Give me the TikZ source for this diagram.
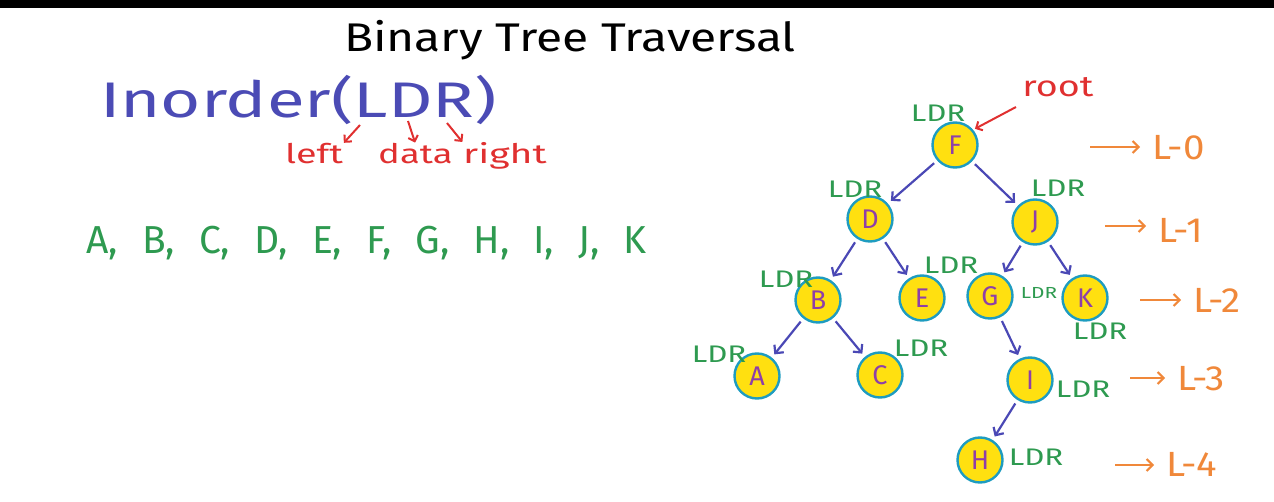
\documentclass[tikz,border=0pt]{standalone}
\usepackage{fontspec}
\setmainfont{Fira Sans}
\usetikzlibrary{arrows.meta}
\newcommand{\wideby}[2]{\scalebox{#1}[1]{#2}}
\definecolor{tblue}{HTML}{4B4BB5}
\definecolor{tred}{HTML}{E03030}
\definecolor{tgreen}{HTML}{2E9A50}
\definecolor{tyellow}{HTML}{FFE010}
\definecolor{tborder}{HTML}{1E9CC0}
\definecolor{tletter}{HTML}{8E3FA8}
\definecolor{tarrow}{HTML}{4A48B5}
\definecolor{torange}{HTML}{F0883A}
\tikzset{
  tnode/.style={circle, draw=tborder, line width=2.4pt, fill=tyellow, minimum size=45pt, inner sep=0pt, text=tletter, font=\fontsize{27}{27}\selectfont},
  edge/.style={-{Straight Barb[length=6pt,width=12pt]}, line width=2.2pt, draw=tarrow, shorten <=4pt, shorten >=4pt},
  ldr/.style={text=tgreen, font=\fontsize{24}{24}\selectfont, inner sep=0pt},
  ldrsmall/.style={text=tgreen, font=\fontsize{16}{16}\selectfont, inner sep=0pt},
  lvl/.style={text=torange, font=\fontsize{35}{35}\selectfont, inner sep=0pt, anchor=base west},
  larrow/.style={-{Straight Barb[length=6pt,width=12pt]}, line width=2pt, draw=torange},
  redarrow/.style={-{Straight Barb[length=5pt,width=10pt]}, line width=2pt, draw=tred},
  redword/.style={anchor=base west, inner sep=0pt, text=tred, font=\fontsize{27}{27}\selectfont},
}
\begin{document}
\begin{tikzpicture}[x=1pt,y=-1pt]
\useasboundingbox (0,0) rectangle (1274,502);
\fill[black] (0,0) rectangle (1274,8);
% title
\node[anchor=base, inner sep=0pt, font=\fontsize{40}{40}\selectfont] (title) at (570,52) {\wideby{1.2}{Binary Tree Traversal}};
% inorder
\node[anchor=base west, inner sep=0pt, text=tblue, font=\fontsize{50}{50}\selectfont] (inorder) at (100,118) {\wideby{1.38}{Inorder(LDR)}};
\node[redword] (left) at (285,164) {\wideby{1.4}{left}};
\node[redword] (data) at (378,164) {\wideby{1.35}{data}};
\node[redword] (right) at (463,164) {\wideby{1.45}{right}};
\coordinate (cL) at (360,125);
\coordinate (cD) at (408,121);
\coordinate (cR) at (447,123);
\draw[redarrow, shorten >=1pt] (cL) -- (left.north east);
\draw[redarrow, shorten >=1pt] (cD) -- (data.north);
\draw[redarrow, shorten >=1pt] (cR) -- (right.north west);
% sequence
\node[anchor=base west, inner sep=0pt, text=tgreen, font=\fontsize{39}{39}\selectfont] (seq) at (86,254) {\spaceskip=24pt A, B, C, D, E, F, G, H, I, J, K};
% tree
\node[tnode] (F) at (955,145) {F};
\node[tnode] (D) at (870,219) {D};
\node[tnode] (J) at (1035,222) {J};
\node[tnode] (B) at (818,300) {B};
\node[tnode] (E) at (922,298) {E};
\node[tnode] (G) at (990,296) {G};
\node[tnode] (K) at (1085,298) {K};
\node[tnode] (A) at (757,376) {A};
\node[tnode] (C) at (880,375) {C};
\node[tnode] (I) at (1030,380) {I};
\node[tnode] (H) at (980,460) {H};
\draw[edge] (F) -- (D);
\draw[edge] (F) -- (J);
\draw[edge] (D) -- (B);
\draw[edge] (D) -- (E);
\draw[edge] (J) -- (G);
\draw[edge] (J) -- (K);
\draw[edge] (B) -- (A);
\draw[edge] (B) -- (C);
\draw[edge] (G) -- (I);
\draw[edge] (I) -- (H);
% LDR labels
\node[ldr] (lF) at (938,113) {\wideby{1.3}{LDR}};
\node[ldr] (lD) at (855,189) {\wideby{1.3}{LDR}};
\node[ldr] (lJ) at (1058,188) {\wideby{1.3}{LDR}};
\node[ldr] (lB) at (786,279) {\wideby{1.3}{LDR}};
\node[ldr] (lE) at (951,265) {\wideby{1.3}{LDR}};
\node[ldrsmall] (lG) at (1039,293) {\wideby{1.3}{LDR}};
\node[ldr] (lK) at (1100,331) {\wideby{1.3}{LDR}};
\node[ldr] (lA) at (719,354) {\wideby{1.3}{LDR}};
\node[ldr] (lC) at (921,348) {\wideby{1.3}{LDR}};
\node[ldr] (lI) at (1083,389) {\wideby{1.3}{LDR}};
\node[ldr] (lH) at (1036,457) {\wideby{1.3}{LDR}};
% root
\node[inner sep=0pt, text=tred, font=\fontsize{29}{29}\selectfont] (root) at (1058,87) {\wideby{1.3}{root}};
\coordinate (rs) at (1016,107);
\draw[redarrow, shorten >=2pt] (rs) -- (F.40);
% levels
\node[lvl] (L0) at (1152,160) {\wideby{1.1}{L-0}};
\node[lvl] (L1) at (1158,243) {\wideby{1.1}{L-1}};
\node[lvl] (L2) at (1193,313) {\wideby{1.1}{L-2}};
\node[lvl] (L3) at (1177,390) {\wideby{1.1}{L-3}};
\node[lvl] (L4) at (1166,476) {\wideby{1.1}{L-4}};
\coordinate (a0) at (1090,147);
\coordinate (a1) at (1105,226);
\coordinate (a2) at (1140,300);
\coordinate (a3) at (1130,378);
\coordinate (a4) at (1115,465);
\draw[larrow, shorten >=12pt] (a0) -- (a0 -| L0.west);
\draw[larrow, shorten >=12pt] (a1) -- (a1 -| L1.west);
\draw[larrow, shorten >=12pt] (a2) -- (a2 -| L2.west);
\draw[larrow, shorten >=12pt] (a3) -- (a3 -| L3.west);
\draw[larrow, shorten >=12pt] (a4) -- (a4 -| L4.west);
\end{tikzpicture}
\end{document}
